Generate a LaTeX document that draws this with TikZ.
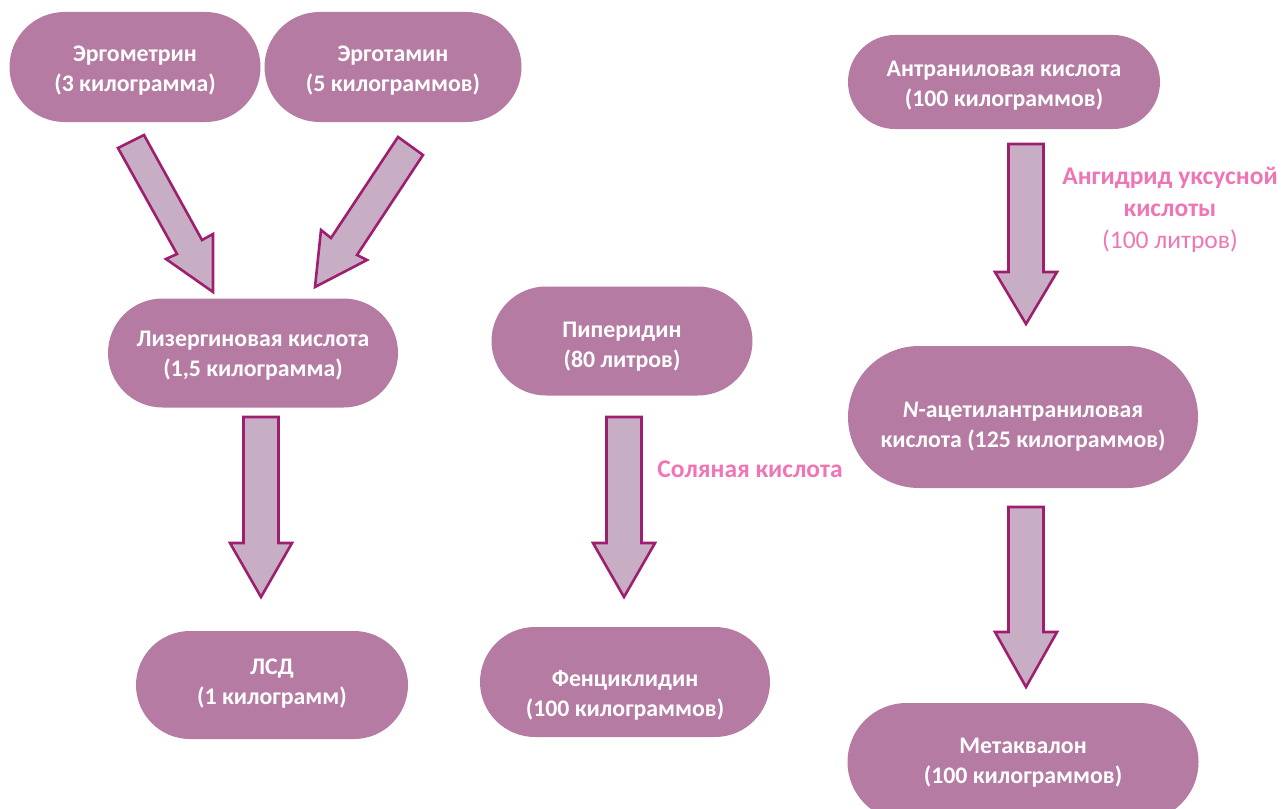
\documentclass[tikz,border=0pt]{standalone}
\usepackage{fontspec}
\setmainfont{Carlito}
\usetikzlibrary{shapes.misc}
\definecolor{pillfill}{HTML}{B57BA2}
\definecolor{arrfill}{HTML}{C8AEC4}
\definecolor{arrline}{HTML}{9E1F70}
\definecolor{pinktxt}{HTML}{F075B5}
\tikzset{
  pill/.style={rounded rectangle, fill=pillfill, draw=none, inner sep=0pt},
  pilltext/.style={text=white, font=\fontsize{23.8}{30}\selectfont\bfseries, align=center, inner sep=0pt},
  blockarrow/.style={fill=arrfill, draw=arrline, line width=2.6pt, line join=miter},
  note/.style={text=pinktxt, font=\fontsize{25.5}{32}\selectfont, align=center, inner sep=0pt}
}
\newcommand{\varrow}[4]{% cx, top, headtop, tip
  \draw[blockarrow] (#1-17.5,#2) -- (#1+17.5,#2) -- (#1+17.5,#3) -- (#1+31,#3) -- (#1,#4) -- (#1-31,#3) -- (#1-17.5,#3) -- cycle;}
\begin{document}
\begin{tikzpicture}[x=1pt,y=-1pt]
\useasboundingbox (0,0) rectangle (1284,808);
\begin{scope}
\clip (0,0) rectangle (1284,808);
% pills
\node[pill, minimum width=251pt, minimum height=110pt] (ergom) at (135,67) {};
\node[pill, minimum width=257pt, minimum height=110pt] (ergot) at (393,67) {};
\node[pill, minimum width=312pt, minimum height=94pt] (antr) at (1004,82) {};
\node[pill, minimum width=290pt, minimum height=109pt] (lys) at (253,353) {};
\node[pill, minimum width=261pt, minimum height=109pt] (pip) at (622,341) {};
\node[pill, minimum width=350pt, minimum height=142pt] (nac) at (1023,417) {};
\node[pill, minimum width=272pt, minimum height=108pt] (lsd) at (272,685) {};
\node[pill, minimum width=290pt, minimum height=110pt] (phen) at (625,682) {};
\node[pill, minimum width=351pt, minimum height=118pt] (meth) at (1023,762) {};
\end{scope}
% texts
\node[pilltext] (ergomT) at ([yshift=-4pt]ergom.center) {Эргометрин\\(3 килограмма)};
\node[pilltext] (ergotT) at ([yshift=-4pt]ergot.center) {Эрготамин\\(5 килограммов)};
\node[pilltext] (antrT) at ([yshift=-4pt]antr.center) {Антраниловая кислота\\(100 килограммов)};
\node[pilltext] (lysT) at ([yshift=-3pt]lys.center) {Лизергиновая кислота\\(1,5 килограмма)};
\node[pilltext] (pipT) at ([yshift=-6pt]pip.center) {Пиперидин\\(80 литров)};
\node[pilltext] (nacT) at ([yshift=-10pt]nac.center) {\textit{N}-ацетилантраниловая\\кислота (125 килограммов)};
\node[pilltext] (lsdT) at ([yshift=1pt]lsd.center) {ЛСД\\(1 килограмм)};
\node[pilltext] (phenT) at ([yshift=-13pt]phen.center) {Фенциклидин\\(100 килограммов)};
\node[pilltext] (methT) at ([yshift=-1pt]meth.center) {Метаквалон\\(100 килограммов)};
% block arrows
\draw[blockarrow] (118,148) -- (144,135) -- (202,240) -- (213,234) -- (213,292) -- (166,259) -- (177,254) -- cycle;
\draw[blockarrow] (398,137) -- (423,155) -- (357,255) -- (367,260) -- (315,287) -- (321,230) -- (331,238) -- cycle;
\varrow{261}{417}{543}{597}
\varrow{624}{417}{543}{597}
\varrow{1026}{144}{272}{324}
\varrow{1026}{507}{632}{687}
% notes
\node[note, font=\fontsize{25.5}{32}\selectfont\bfseries] (hcl) at (750,469) {Соляная кислота};
\node[note] (anh) at (1170,210) {\textbf{Ангидрид уксусной}\\\textbf{кислоты}\\(100 литров)};
\end{tikzpicture}
\end{document}
